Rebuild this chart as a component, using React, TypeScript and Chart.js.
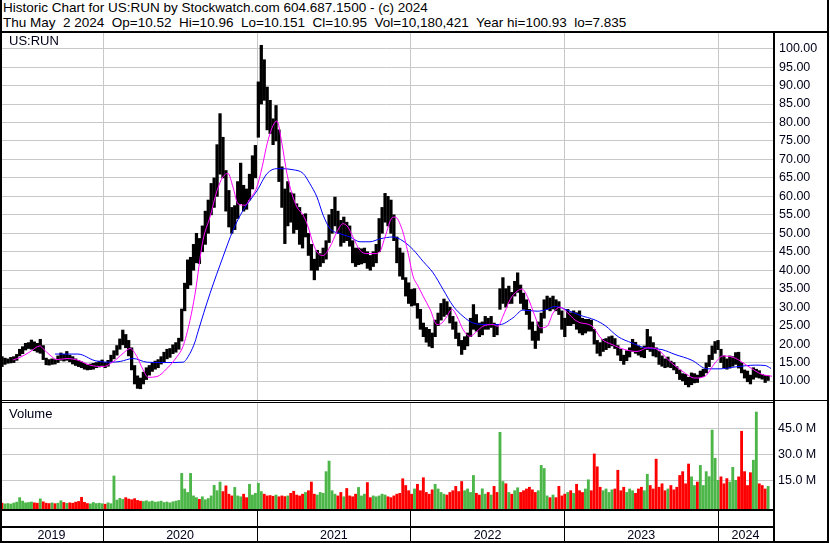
import React, { useEffect, useRef } from "react";
import { Chart, registerables } from "chart.js";

Chart.register(...registerables);

// ---------------- text ----------------
const headerLine1 = "Historic Chart for US:RUN by Stockwatch.com 604.687.1500 - (c) 2024";
const headerLine2 =
  "Thu May  2 2024  Op=10.52  Hi=10.96  Lo=10.151  Cl=10.95  Vol=10,180,421  Year hi=100.93  lo=7.835";
const symbolLabel = "US:RUN";
const volumeLabel = "Volume";

// ---------------- axes ----------------
const FIRST_WEEK_UTC = Date.UTC(2019, 3, 29); // week 0 (Mon 29 Apr 2019)
const yearStarts = [2020, 2021, 2022, 2023, 2024];
const yearLabels = ["2019", "2020", "2021", "2022", "2023", "2024"];
const priceTicks = [10, 15, 20, 25, 30, 35, 40, 45, 50, 55, 60, 65, 70, 75, 80, 85, 90, 95, 100];
const volumeTicks = [15, 30, 45];

// ---------------- weekly price ranges ----------------
const weekLow = [
  14.0, 13.9, 14.5, 14.8, 14.9, 15.0, 15.6, 16.8, 17.4, 18.4,
  18.8, 18.6, 18.2, 17.8, 17.5, 15.8, 14.4, 14.3, 14.5, 14.6,
  15.0, 15.6, 15.4, 15.6, 15.2, 14.6, 14.2, 13.9, 13.6, 13.2,
  13.0, 13.1, 13.2, 13.6, 13.8, 14.2, 13.6, 14.0, 15.2, 16.0,
  17.0, 18.6, 19.8, 19.0, 16.8, 13.0, 9.2, 8.0, 7.9, 9.2,
  10.4, 11.6, 12.6, 13.2, 13.6, 14.6, 15.2, 16.0, 16.4, 17.4,
  17.8, 18.6, 20.8, 29.0, 35.0, 36.0, 40.0, 42.0, 41.8, 45.0,
  47.0, 50.0, 55.0, 57.0, 60.0, 66.0, 65.0, 56.0, 51.7, 50.0,
  51.0, 54.0, 58.0, 56.0, 56.5, 59.0, 62.0, 65.0, 76.0, 85.0,
  86.0, 78.0, 77.0, 74.0, 75.0, 64.0, 57.0, 47.2, 52.0, 53.0,
  50.0, 51.0, 47.0, 46.0, 49.0, 44.0, 40.0, 37.4, 40.0, 41.0,
  42.0, 43.0, 47.5, 50.0, 52.0, 50.0, 46.5, 47.5, 48.0, 46.5,
  42.0, 41.0, 41.5, 41.7, 42.0, 40.5, 40.0, 41.0, 42.0, 45.0,
  50.0, 53.0, 52.0, 50.0, 48.0, 42.0, 38.4, 37.5, 33.0, 31.0,
  30.3, 30.5, 27.0, 24.0, 22.0, 20.5, 19.4, 19.0, 22.0, 25.0,
  26.5, 27.5, 28.0, 25.7, 24.0, 21.5, 19.5, 17.2, 18.5, 19.5,
  22.0, 24.0, 23.5, 22.0, 22.5, 24.0, 24.0, 24.5, 22.0, 22.5,
  29.4, 31.0, 30.0, 31.0, 31.0, 33.0, 34.0, 31.0, 29.4, 28.0,
  24.0, 21.0, 18.8, 21.0, 23.0, 27.0, 29.4, 29.0, 29.5, 29.0,
  28.0, 24.0, 22.0, 25.0, 25.0, 25.5, 24.0, 23.0, 22.5, 23.0,
  23.5, 23.5, 20.0, 17.5, 16.8, 18.0, 18.5, 19.0, 19.5, 18.8,
  17.0, 15.5, 14.5, 15.5, 16.5, 18.0, 17.5, 17.0, 16.5, 16.3,
  18.5, 18.0, 16.8, 16.5, 14.5, 14.0, 13.6, 13.8, 13.6, 13.0,
  12.0, 10.4, 10.0, 9.0, 8.4, 9.0, 9.5, 9.6, 10.9, 11.2,
  12.2, 13.9, 15.8, 17.5, 18.5, 15.0, 13.6, 13.2, 13.5, 14.0,
  14.5, 13.5, 12.2, 10.8, 9.8, 9.2, 10.5, 11.0, 10.8, 10.5,
  9.6, 10.15,
];
const weekHigh = [
  16.8, 16.6, 16.2, 16.0, 16.4, 16.6, 17.2, 18.6, 19.3, 20.2,
  20.4, 21.1, 20.6, 20.2, 21.3, 19.6, 16.2, 15.8, 16.0, 15.8,
  16.8, 17.6, 17.2, 18.0, 17.0, 16.6, 16.0, 15.6, 15.2, 14.8,
  14.4, 14.6, 14.8, 15.0, 15.4, 15.7, 15.0, 15.6, 17.0, 18.2,
  19.6, 21.4, 23.8, 22.6, 21.0, 19.0, 14.2, 11.4, 10.8, 12.4,
  13.6, 14.2, 15.0, 15.4, 15.8, 16.6, 17.8, 18.6, 18.8, 19.8,
  20.4, 21.6, 29.5, 36.5, 42.8, 43.5, 47.0, 50.0, 48.6, 52.0,
  56.0, 59.0, 63.5, 65.0, 74.0, 82.4, 76.0, 67.0, 61.6, 57.0,
  57.5, 64.0, 69.0, 63.0, 62.0, 66.0, 71.0, 73.8, 91.0, 100.9,
  97.0, 89.6, 86.0, 81.0, 84.6, 78.0, 68.0, 62.0, 64.0, 61.0,
  60.7, 58.0, 57.0, 55.0, 55.3, 50.0, 47.0, 43.0, 45.4, 44.5,
  46.0, 48.0, 55.0, 56.5, 59.8, 56.0, 53.5, 54.4, 53.0, 52.0,
  48.0, 46.0, 46.0, 45.8, 46.0, 45.0, 44.0, 45.0, 47.0, 54.0,
  57.0, 60.8, 60.0, 59.0, 55.0, 49.0, 46.0, 44.7, 38.0, 36.6,
  34.8, 35.0, 31.0, 29.4, 25.7, 24.5, 24.0, 23.0, 26.5, 28.4,
  31.0, 32.2, 31.5, 30.0, 27.5, 26.0, 23.0, 21.0, 22.0, 23.0,
  27.0, 30.7, 28.0, 25.7, 26.0, 27.5, 27.0, 27.5, 25.7, 25.0,
  35.0, 38.0, 35.0, 35.7, 34.0, 37.0, 39.3, 36.0, 33.8, 32.0,
  29.4, 26.0, 23.5, 26.0, 28.4, 32.0, 33.0, 32.5, 33.0, 32.0,
  31.5, 29.0, 27.0, 29.4, 28.5, 29.0, 28.5, 29.0, 27.0, 26.7,
  26.7, 26.5, 24.0, 21.0, 20.4, 21.3, 21.5, 22.0, 22.2, 21.5,
  19.6, 18.6, 17.0, 18.2, 19.0, 21.3, 20.5, 19.5, 19.0, 19.5,
  24.0, 22.0, 20.4, 19.0, 18.0, 16.8, 16.0, 16.5, 15.4, 15.0,
  13.9, 13.0, 12.0, 11.8, 11.0, 12.2, 12.0, 11.6, 12.7, 13.2,
  14.9, 17.0, 19.5, 20.7, 21.0, 18.6, 16.8, 16.0, 16.8, 16.6,
  17.7, 17.8, 15.0, 13.0, 12.7, 11.6, 13.6, 13.2, 12.8, 11.8,
  11.5, 11.4,
];

// ---------------- weekly volume (millions) ----------------
const weekVolume = [
  1.5, 1.8, 1.4, 1.6, 1.3, 1.9, 2.4, 5.0, 3.0, 2.0,
  2.2, 2.5, 2.0, 1.8, 4.3, 2.6, 1.8, 1.6, 2.0, 1.5,
  1.8, 3.2, 2.2, 1.7, 2.0, 1.8, 2.4, 2.8, 5.2, 2.3,
  1.6, 1.4, 2.2, 1.6, 1.8, 1.5, 1.2, 2.0, 1.5, 17.5,
  3.6, 4.6, 4.0, 5.0, 4.2, 3.8, 4.4, 3.4, 3.0, 2.8,
  3.2, 2.6, 3.0, 2.4, 2.6, 3.0, 2.2, 2.5, 2.0, 2.6,
  3.0, 3.4, 19.0, 10.0, 8.0, 19.0, 6.0, 5.0, 4.0, 5.5,
  3.8, 4.5, 6.0, 12.1, 9.0, 14.0, 8.5, 11.8, 7.0, 6.0,
  10.9, 6.0, 5.5, 7.0, 5.0, 12.7, 6.5, 7.5, 13.3, 8.5,
  7.0, 6.0, 6.2, 5.8, 6.5, 5.5, 6.0, 5.6, 6.0, 7.5,
  8.7, 6.5, 6.0, 7.0, 8.0, 9.0, 14.0, 7.0, 6.5, 8.0,
  7.5, 20.0, 26.1, 9.0, 7.0, 6.0, 8.0, 5.5, 10.3, 6.0,
  5.5, 7.0, 10.9, 6.0, 7.0, 13.7, 5.0, 6.0, 5.5, 6.0,
  7.0, 6.5, 5.5, 5.0, 6.0, 7.0, 7.5, 15.9, 12.0, 9.0,
  7.0, 10.0, 12.7, 9.0, 16.5, 8.0, 7.0, 9.5, 12.7, 10.0,
  8.0, 7.0, 6.5, 8.0, 9.0, 11.5, 8.5, 14.3, 9.0, 10.0,
  8.0, 17.8, 7.5, 6.5, 10.1, 7.0, 8.0, 6.5, 11.5, 8.0,
  42.7, 14.3, 13.0, 8.0, 7.0, 9.0, 10.7, 8.0, 9.0, 10.0,
  11.0, 9.5, 8.0, 9.0, 23.6, 21.8, 6.0, 5.0, 6.5, 5.0,
  11.5, 6.0, 7.0, 8.0, 9.0, 7.5, 12.7, 9.0, 8.0, 10.0,
  15.3, 9.0, 30.2, 22.8, 11.0, 9.0, 10.0, 8.0, 9.5, 10.0,
  20.8, 9.0, 11.0, 8.0, 10.0, 9.0, 7.5, 10.0, 11.0, 9.0,
  18.5, 12.0, 10.0, 27.2, 11.0, 13.0, 9.0, 10.0, 12.0, 9.5,
  11.0, 17.8, 20.0, 13.0, 24.4, 17.0, 12.0, 14.0, 23.6, 12.0,
  20.0, 17.1, 44.0, 27.7, 15.0, 17.0, 13.0, 16.0, 14.0, 22.5,
  15.0, 17.0, 43.3, 20.0, 12.0, 19.4, 26.6, 54.4, 13.0, 12.0,
  10.0, 11.5,
];

// ---------------- moving averages (read at week positions) ----------------
const ma50Week = [
  4.7, 7.1, 10.5, 13.9, 14.9, 17.3, 19.7, 23.1, 26.5, 30.9,
  35.3, 38.7, 42.1, 44.5, 46.8, 48.9, 50.6, 53.6, 57.0, 60.4,
  62.4, 64.8, 66.5, 69.2, 71.6, 74.0, 76.0, 77.7, 79.4, 81.1,
  83.5, 85.2, 87.5, 89.3, 91.0, 93.0, 94.3, 96.0, 97.7, 99.4,
  101.1, 103.2, 104.9, 106.6, 108.3, 110.0, 112.3, 114.7, 116.7, 118.4,
  120.1, 122.5, 124.9, 127.6, 129.3, 131.0, 133.4, 134.4, 136.8, 138.8,
  140.5, 142.2, 143.9, 146.3, 148.6, 150.3, 152.0, 153.7, 155.4, 157.5,
  159.8, 162.2, 164.2, 167.6, 169.3, 171.0, 173.4, 175.8, 177.5, 179.5,
  181.9, 183.6, 186.0, 188.0, 190.4, 192.8, 195.5, 197.2, 201.2, 204.6,
  208.0, 212.4, 216.5, 220.2, 223.6, 227.0, 231.8, 236.2, 239.6, 243.0,
  245.7, 249.8, 254.2, 258.9, 262.3,
];
const ma50Value = [
  15.7, 16.4, 17.9, 19.5, 18.8, 17.0, 15.8, 16.1, 15.7, 14.3,
  13.9, 15.2, 17.5, 18.8, 16.6, 13.0, 11.0, 11.2, 13.4, 16.6,
  19.3, 26.4, 33.5, 48.1, 54.4, 61.6, 65.3, 66.2, 62.5, 58.0,
  57.6, 59.4, 62.5, 68.0, 74.3, 79.2, 80.4, 74.3, 66.2, 60.7,
  57.1, 54.9, 51.7, 47.2, 44.5, 44.0, 46.3, 50.4, 52.6, 51.7,
  49.0, 45.4, 44.5, 44.5, 45.1, 49.0, 54.2, 54.4, 51.0, 44.7,
  38.4, 35.7, 33.0, 29.4, 25.3, 25.7, 27.5, 29.4, 27.5, 23.9,
  22.1, 23.5, 24.8, 25.3, 24.8, 27.5, 32.0, 34.3, 34.9, 32.5,
  27.5, 24.4, 24.8, 28.4, 30.0, 28.6, 26.5, 25.8, 24.9, 21.3,
  19.9, 18.5, 18.0, 19.0, 18.5, 15.8, 12.7, 10.8, 11.3, 14.9,
  16.8, 16.2, 14.0, 11.8, 11.3,
];
const ma200Week = [
  19.0, 26.8, 32.6, 37.7, 41.1, 45.5, 50.2, 56.3, 62.4, 64.8,
  66.5, 67.5, 71.6, 76.0, 79.4, 82.8, 87.6, 91.0, 94.3, 99.8,
  103.2, 105.5, 107.9, 110.0, 112.3, 115.7, 119.1, 122.5, 125.9, 129.3,
  133.7, 137.1, 140.5, 143.9, 147.3, 150.7, 154.1, 157.5, 160.9, 165.6,
  170.0, 174.4, 177.8, 182.6, 186.0, 188.7, 192.8, 197.2, 202.3, 205.7,
  210.1, 214.8, 219.2, 225.0, 229.4, 235.2, 240.3, 244.7, 249.8, 256.6,
  260.0, 262.0,
];
const ma200Value = [
  17.3, 17.3, 15.5, 15.1, 15.3, 16.1, 15.1, 15.0, 15.1, 17.5,
  20.6, 23.3, 33.7, 43.6, 50.8, 56.2, 61.6, 66.2, 67.5, 67.2,
  66.2, 63.4, 59.8, 54.9, 51.3, 49.9, 49.0, 47.7, 47.7, 48.5,
  49.0, 47.9, 45.6, 42.4, 39.3, 34.8, 30.3, 27.5, 25.7, 25.3,
  25.3, 27.1, 29.2, 28.9, 29.4, 30.2, 29.2, 27.8, 26.5, 25.0,
  22.0, 20.3, 19.0, 18.5, 17.2, 15.6, 13.3, 13.3, 13.8, 14.3,
  14.2, 13.4,
];

// ---------------- ranges / styles ----------------
const X_MIN = 2.3; // days since week 0
const X_MAX = 1838.6;
const PRICE_MIN = 4.86;
const PRICE_MAX = 104.23;
const VOL_MIN = -1.56;
const VOL_MAX = 59.6;
const FONT = '"Liberation Sans", Arial, Helvetica, sans-serif';
const GRID = "#c8c8c8";
const UP = "#4cb648";
const DOWN = "#ff0000";
const TEXT = "#000018";

const DAY_MS = 86400000;
const yearStartDays = yearStarts.map((y) => (Date.UTC(y, 0, 1) - FIRST_WEEK_UTC) / DAY_MS);
const weekDay = (w: number) => w * 7;

const alignPx = (p: number) => Math.round(p - 0.5) + 0.5;

const zeroPadding = (s: any) => {
  s.paddingTop = 0;
  s.paddingBottom = 0;
  s.paddingLeft = 0;
  s.paddingRight = 0;
};

const volumeFramePlugin = {
  id: "volumeFrame",
  beforeDatasetsDraw(chart: any) {
    const { ctx, chartArea, scales } = chart;
    ctx.save();
    ctx.strokeStyle = GRID;
    ctx.lineWidth = 1;
    yearStartDays.forEach((d) => {
      const px = alignPx(scales.x.getPixelForValue(d));
      ctx.beginPath();
      ctx.moveTo(px, chartArea.top);
      ctx.lineTo(px, chartArea.bottom);
      ctx.stroke();
    });
    ctx.restore();
  },
  afterDraw(chart: any) {
    const { ctx, chartArea, scales, height } = chart;
    ctx.save();
    ctx.strokeStyle = "#000";
    ctx.lineWidth = 1;
    yearStartDays.forEach((d) => {
      const px = alignPx(scales.x.getPixelForValue(d));
      ctx.beginPath();
      ctx.moveTo(px, chartArea.bottom);
      ctx.lineTo(px, height);
      ctx.stroke();
    });
    ctx.restore();
  },
};

export default function App() {
  const priceRef = useRef<HTMLCanvasElement | null>(null);
  const volRef = useRef<HTMLCanvasElement | null>(null);

  useEffect(() => {
    if (!priceRef.current || !volRef.current) return;

    const priceChart = new Chart(priceRef.current, {
      type: "bar",
      data: {
        datasets: [
          {
            type: "line",
            label: "50-day average",
            data: ma50Week.map((w, k) => ({ x: weekDay(w), y: ma50Value[k] })),
            borderColor: "#ff00ff",
            borderWidth: 1,
            pointRadius: 0,
            cubicInterpolationMode: "monotone",
            order: 0,
          },
          {
            type: "line",
            label: "200-day average",
            data: ma200Week.map((w, k) => ({ x: weekDay(w), y: ma200Value[k] })),
            borderColor: "#0000ff",
            borderWidth: 1,
            pointRadius: 0,
            cubicInterpolationMode: "monotone",
            order: 1,
          },
          {
            type: "bar",
            label: "Weekly range",
            data: weekLow.map((lo, i) => ({ x: weekDay(i), y: [lo, weekHigh[i]] })),
            backgroundColor: "#000",
            barThickness: 2.6,
            order: 2,
          },
        ],
      } as any,
      options: {
        animation: false,
        responsive: false,
        devicePixelRatio: 1,
        layout: { padding: 0 },
        plugins: { legend: { display: false }, tooltip: { enabled: false } },
        scales: {
          x: {
            type: "linear",
            min: X_MIN,
            max: X_MAX,
            offset: false,
            afterBuildTicks: (s: any) => {
              s.ticks = yearStartDays.map((v) => ({ value: v }));
            },
            grid: { color: GRID, lineWidth: 1, drawTicks: false, offset: false },
            border: { display: false },
            ticks: { display: false },
            afterFit: (s: any) => {
              s.height = 0;
              zeroPadding(s);
            },
          },
          y: {
            type: "linear",
            position: "right",
            min: PRICE_MIN,
            max: PRICE_MAX,
            afterBuildTicks: (s: any) => {
              s.ticks = priceTicks.map((v) => ({ value: v }));
            },
            grid: { color: GRID, lineWidth: 1, drawTicks: false },
            border: { display: false },
            ticks: {
              padding: 6,
              color: TEXT,
              font: { family: FONT, size: 12.5 },
              callback: (v: any) => Number(v).toFixed(2),
            },
            afterFit: (s: any) => {
              s.width = 57;
              zeroPadding(s);
            },
          },
        },
      } as any,
    });

    const volumeColors = weekVolume.map((_, i) => {
      const mid = (weekLow[i] + weekHigh[i]) / 2;
      const prev = i > 0 ? (weekLow[i - 1] + weekHigh[i - 1]) / 2 : mid;
      return mid >= prev ? UP : DOWN;
    });

    const volumeChart = new Chart(volRef.current, {
      type: "bar",
      data: {
        datasets: [
          {
            label: "Volume",
            data: weekVolume.map((v, i) => ({ x: weekDay(i), y: v })),
            backgroundColor: volumeColors,
            base: VOL_MIN,
            barThickness: 2.2,
          },
        ],
      } as any,
      options: {
        animation: false,
        responsive: false,
        devicePixelRatio: 1,
        layout: { padding: 0 },
        plugins: { legend: { display: false }, tooltip: { enabled: false } },
        scales: {
          x: {
            type: "linear",
            min: X_MIN,
            max: X_MAX,
            offset: false,
            afterBuildTicks: (s: any) => {
              const bounds = [s.min, ...yearStartDays, s.max];
              s.ticks = yearLabels.map((_, k) => ({ value: (bounds[k] + bounds[k + 1]) / 2 }));
            },
            grid: { display: false, drawTicks: false },
            border: { display: false },
            ticks: {
              autoSkip: false,
              maxRotation: 0,
              minRotation: 0,
              padding: 19,
              color: TEXT,
              font: { family: FONT, size: 12.5 },
              callback: (_v: any, idx: number) => yearLabels[idx],
            },
            afterFit: (s: any) => {
              s.height = 34;
              zeroPadding(s);
            },
          },
          y: {
            type: "linear",
            position: "right",
            min: VOL_MIN,
            max: VOL_MAX,
            afterBuildTicks: (s: any) => {
              s.ticks = volumeTicks.map((v) => ({ value: v }));
            },
            grid: { color: GRID, lineWidth: 1, drawTicks: false },
            border: { display: false },
            ticks: {
              padding: 5,
              color: TEXT,
              font: { family: FONT, size: 12.5 },
              callback: (v: any) => Number(v).toFixed(1) + " M",
            },
            afterFit: (s: any) => {
              s.width = 57;
              zeroPadding(s);
            },
          },
        },
      } as any,
      plugins: [volumeFramePlugin],
    });

    return () => {
      priceChart.destroy();
      volumeChart.destroy();
    };
  }, []);

  const line = (left: number, top: number, width: number, height: number) => (
    <div style={{ position: "absolute", left, top, width, height, background: "#000" }} />
  );

  return (
    <div
      style={{
        position: "absolute",
        left: 0,
        top: 0,
        width: 830,
        height: 543,
        background: "#fff",
        overflow: "hidden",
        fontFamily: FONT,
      }}
    >
      <div
        style={{
          position: "absolute",
          left: 3,
          top: 0,
          fontSize: 13.5,
          lineHeight: "15px",
          whiteSpace: "pre",
          color: "#000",
        }}
      >
        {headerLine1}
        <br />
        {headerLine2}
      </div>
      <canvas
        ref={priceRef}
        width={830}
        height={367}
        style={{ position: "absolute", left: 0, top: 33, width: 830, height: 367 }}
      />
      <canvas
        ref={volRef}
        width={830}
        height={140}
        style={{ position: "absolute", left: 0, top: 403, width: 830, height: 140 }}
      />
      <div style={{ position: "absolute", left: 9, top: 33, fontSize: 13, lineHeight: "15px", color: TEXT }}>
        {symbolLabel}
      </div>
      <div style={{ position: "absolute", left: 9, top: 406, fontSize: 13, lineHeight: "15px", color: TEXT }}>
        {volumeLabel}
      </div>
      {line(0, 0, 2, 543)}
      {line(827, 0, 2, 543)}
      {line(0, 31, 829, 2)}
      {line(773, 31, 2, 512)}
      {line(0, 400, 829, 1)}
      {line(0, 402, 775, 1)}
      {line(0, 509, 775, 2)}
      {line(0, 526, 775, 2)}
      {line(0, 541, 829, 2)}
    </div>
  );
}
